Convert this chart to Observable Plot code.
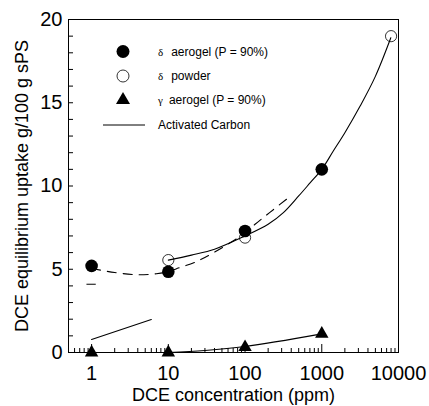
<!DOCTYPE html>
<html>
<head>
<meta charset="utf-8">
<script src="https://cdn.jsdelivr.net/npm/d3@7"></script>
<script src="https://cdn.jsdelivr.net/npm/@observablehq/plot@0.6"></script>
<style>
  html, body { margin: 0; padding: 0; background: #fff; }
</style>
</head>
<body>
<div id="chart"></div>
<script>
// ---- data ----
const deltaAerogelX = [1, 10, 100, 1000];
const deltaAerogelY = [5.2, 4.85, 7.3, 11.0];

const deltaPowderX = [10, 100, 8000];
const deltaPowderY = [5.55, 6.9, 19.0];

const gammaAerogelX = [1, 10, 100, 1000];
const gammaAerogelY = [0, 0, 0.32, 1.12];

// solid fitted curve through the powder points
const powderFitX = [10, 20, 40, 100, 200, 316, 500, 708, 1000, 1413, 2000, 3162, 5012, 7943];
const powderFitY = [5.55, 5.85, 6.2, 7.0, 7.7, 8.4, 9.4, 10.2, 11.0, 12.1, 13.2, 14.8, 16.6, 18.9];

// dashed fitted curve through the delta aerogel points
const aerogelFitX = [1, 2, 4, 7, 10, 12.6, 23, 40, 91, 135, 209, 380];
const aerogelFitY = [5.05, 4.8, 4.67, 4.73, 4.85, 5.02, 5.45, 6.03, 7.05, 7.7, 8.4, 9.35];

// solid line through gamma aerogel points
const gammaFitX = [10, 30, 100, 1000];
const gammaFitY = [0, 0.12, 0.36, 1.12];

// activated carbon line
const carbonX = [1, 6];
const carbonY = [0.78, 1.98];

// leftover error-bar cap at x = 1
const capX1 = [0.87];
const capX2 = [1.15];
const capY = [4.1];

// axes
const xTickValues = [1, 10, 100, 1000, 10000];
const xTickLabels = ["1", "10", "100", "1000", "10000"];
const xMinorTicks = [0.6, 0.7, 0.8, 0.9,
  2, 3, 4, 5, 6, 7, 8, 9,
  20, 30, 40, 50, 60, 70, 80, 90,
  200, 300, 400, 500, 600, 700, 800, 900,
  2000, 3000, 4000, 5000, 6000, 7000, 8000, 9000];
const yTickValues = [0, 5, 10, 15, 20];
const yMinorTicks = [1, 2, 3, 4, 5, 6, 7, 8, 9, 10, 11, 12, 13, 14, 15, 16, 17, 18, 19];

const xTitle = "DCE concentration (ppm)";
const yTitle = "DCE equilibrium uptake g/100 g sPS";

// legend
const legendGreek = ["δ", "δ", "γ", ""];
const legendText = ["aerogel (P = 90%)", "powder", "aerogel (P = 90%)", "Activated Carbon"];
const legendKind = ["filled", "open", "triangle", "line"];

// ---- build tables ----
const zip = (xs, ys) => xs.map((x, i) => ({x, y: ys[i]}));
const deltaAerogel = zip(deltaAerogelX, deltaAerogelY);
const deltaPowder = zip(deltaPowderX, deltaPowderY);
const gammaAerogel = zip(gammaAerogelX, gammaAerogelY);
const powderFit = zip(powderFitX, powderFitY);
const aerogelFit = zip(aerogelFitX, aerogelFitY);
const gammaFit = zip(gammaFitX, gammaFitY);
const carbon = zip(carbonX, carbonY);
const caps = capY.map((y, i) => ({y, x1: capX1[i], x2: capX2[i]}));

const W = 429, H = 406;
const mL = 68, mR = 31, mT = 19, mB = 54;
const innerW = W - mL - mR, innerH = H - mT - mB;
const FONT = "'Liberation Sans', Arial, Helvetica, sans-serif";

function legend(index, scales, values, dimensions) {
  const g = d3.create("svg:g")
    .attr("font-family", FONT)
    .attr("font-size", 12)
    .attr("text-anchor", "start")
    .attr("fill", "black");
  const left = dimensions.marginLeft, top = dimensions.marginTop;
  const rowY = [32.5, 57, 81, 106];
  legendKind.forEach((kind, i) => {
    const cy = top + rowY[i];
    const cx = left + 55;
    if (kind === "filled") {
      g.append("circle").attr("cx", cx).attr("cy", cy).attr("r", 6.5).attr("fill", "black");
    } else if (kind === "open") {
      g.append("circle").attr("cx", cx).attr("cy", cy).attr("r", 6).attr("fill", "white").attr("stroke", "black").attr("stroke-width", 0.8);
    } else if (kind === "triangle") {
      g.append("path").attr("transform", `translate(${cx},${cy})`)
        .attr("d", d3.symbol(d3.symbolTriangle, Math.PI * 5.2 * 5.2)()).attr("fill", "black");
    } else {
      g.append("line").attr("x1", left + 35).attr("x2", left + 77).attr("y1", cy).attr("y2", cy)
        .attr("stroke", "black").attr("stroke-width", 1);
    }
    const t = g.append("text").attr("x", left + 90).attr("y", cy).attr("dy", "0.35em");
    if (legendGreek[i]) {
      t.append("tspan").attr("font-family", "'Liberation Serif', 'DejaVu Serif', serif").attr("font-size", 11).text(legendGreek[i]);
      t.append("tspan").attr("dx", legendGreek[i] === "γ" ? 6 : 8).text(legendText[i]);
    } else {
      t.text(legendText[i]);
    }
  });
  return g.node();
}

const chart = Plot.plot({
  width: W,
  height: H,
  marginLeft: mL,
  marginRight: mR,
  marginTop: mT,
  marginBottom: mB,
  style: {fontFamily: FONT, background: "white", color: "black"},
  x: {type: "log", domain: [0.5, 10000]},
  y: {domain: [0, 20]},
  marks: [
    // ticks (inward)
    Plot.ruleY(yMinorTicks, {stroke: "black", insetRight: innerW - 5}),
    Plot.ruleX(xTickValues, {stroke: "black", insetTop: innerH - 8}),
    Plot.ruleX(xMinorTicks, {stroke: "black", insetTop: innerH - 4}),
    // tick labels
    Plot.axisX(xTickValues, {tickSize: 0, tickPadding: 13, fontSize: 20, label: null,
      tickFormat: d => xTickLabels[xTickValues.indexOf(d)], fill: "black"}),
    Plot.axisY(yTickValues, {tickSize: 0, tickPadding: 6, fontSize: 20, label: null, fill: "black"}),
    // axis titles
    Plot.text([xTitle], {text: d => d, frameAnchor: "bottom", textAnchor: "middle", lineAnchor: "top", dy: 36, fontSize: 18, fill: "black"}),
    Plot.text([yTitle], {text: d => d, frameAnchor: "left", textAnchor: "middle", lineAnchor: "top", rotate: -90, dx: -53, fontSize: 18, fill: "black"}),
    // error cap remnant
    Plot.ruleY(caps, {y: "y", x1: "x1", x2: "x2", stroke: "black", strokeWidth: 1}),
    // open circles
    Plot.dot(deltaPowder, {x: "x", y: "y", r: 5.6, stroke: "black", strokeWidth: 0.8, fill: "white"}),
    // curves
    Plot.line(aerogelFit, {x: "x", y: "y", curve: "catmull-rom", stroke: "black", strokeWidth: 1.1, strokeDasharray: "9,7"}),
    Plot.line(powderFit, {x: "x", y: "y", curve: "catmull-rom", stroke: "black", strokeWidth: 1.1}),
    Plot.line(gammaFit, {x: "x", y: "y", curve: "catmull-rom", stroke: "black", strokeWidth: 1.1}),
    Plot.line(carbon, {x: "x", y: "y", stroke: "black", strokeWidth: 1.1}),
    // filled circles and triangles
    Plot.dot(deltaAerogel, {x: "x", y: "y", r: 6.3, fill: "black", stroke: "none"}),
    Plot.dot(gammaAerogel, {x: "x", y: "y", r: 5, symbol: "triangle", fill: "black", stroke: "none"}),
    Plot.frame({stroke: "black", strokeWidth: 1}),
    legend
  ]
});

document.getElementById("chart").appendChild(chart);
</script>
</body>
</html>
